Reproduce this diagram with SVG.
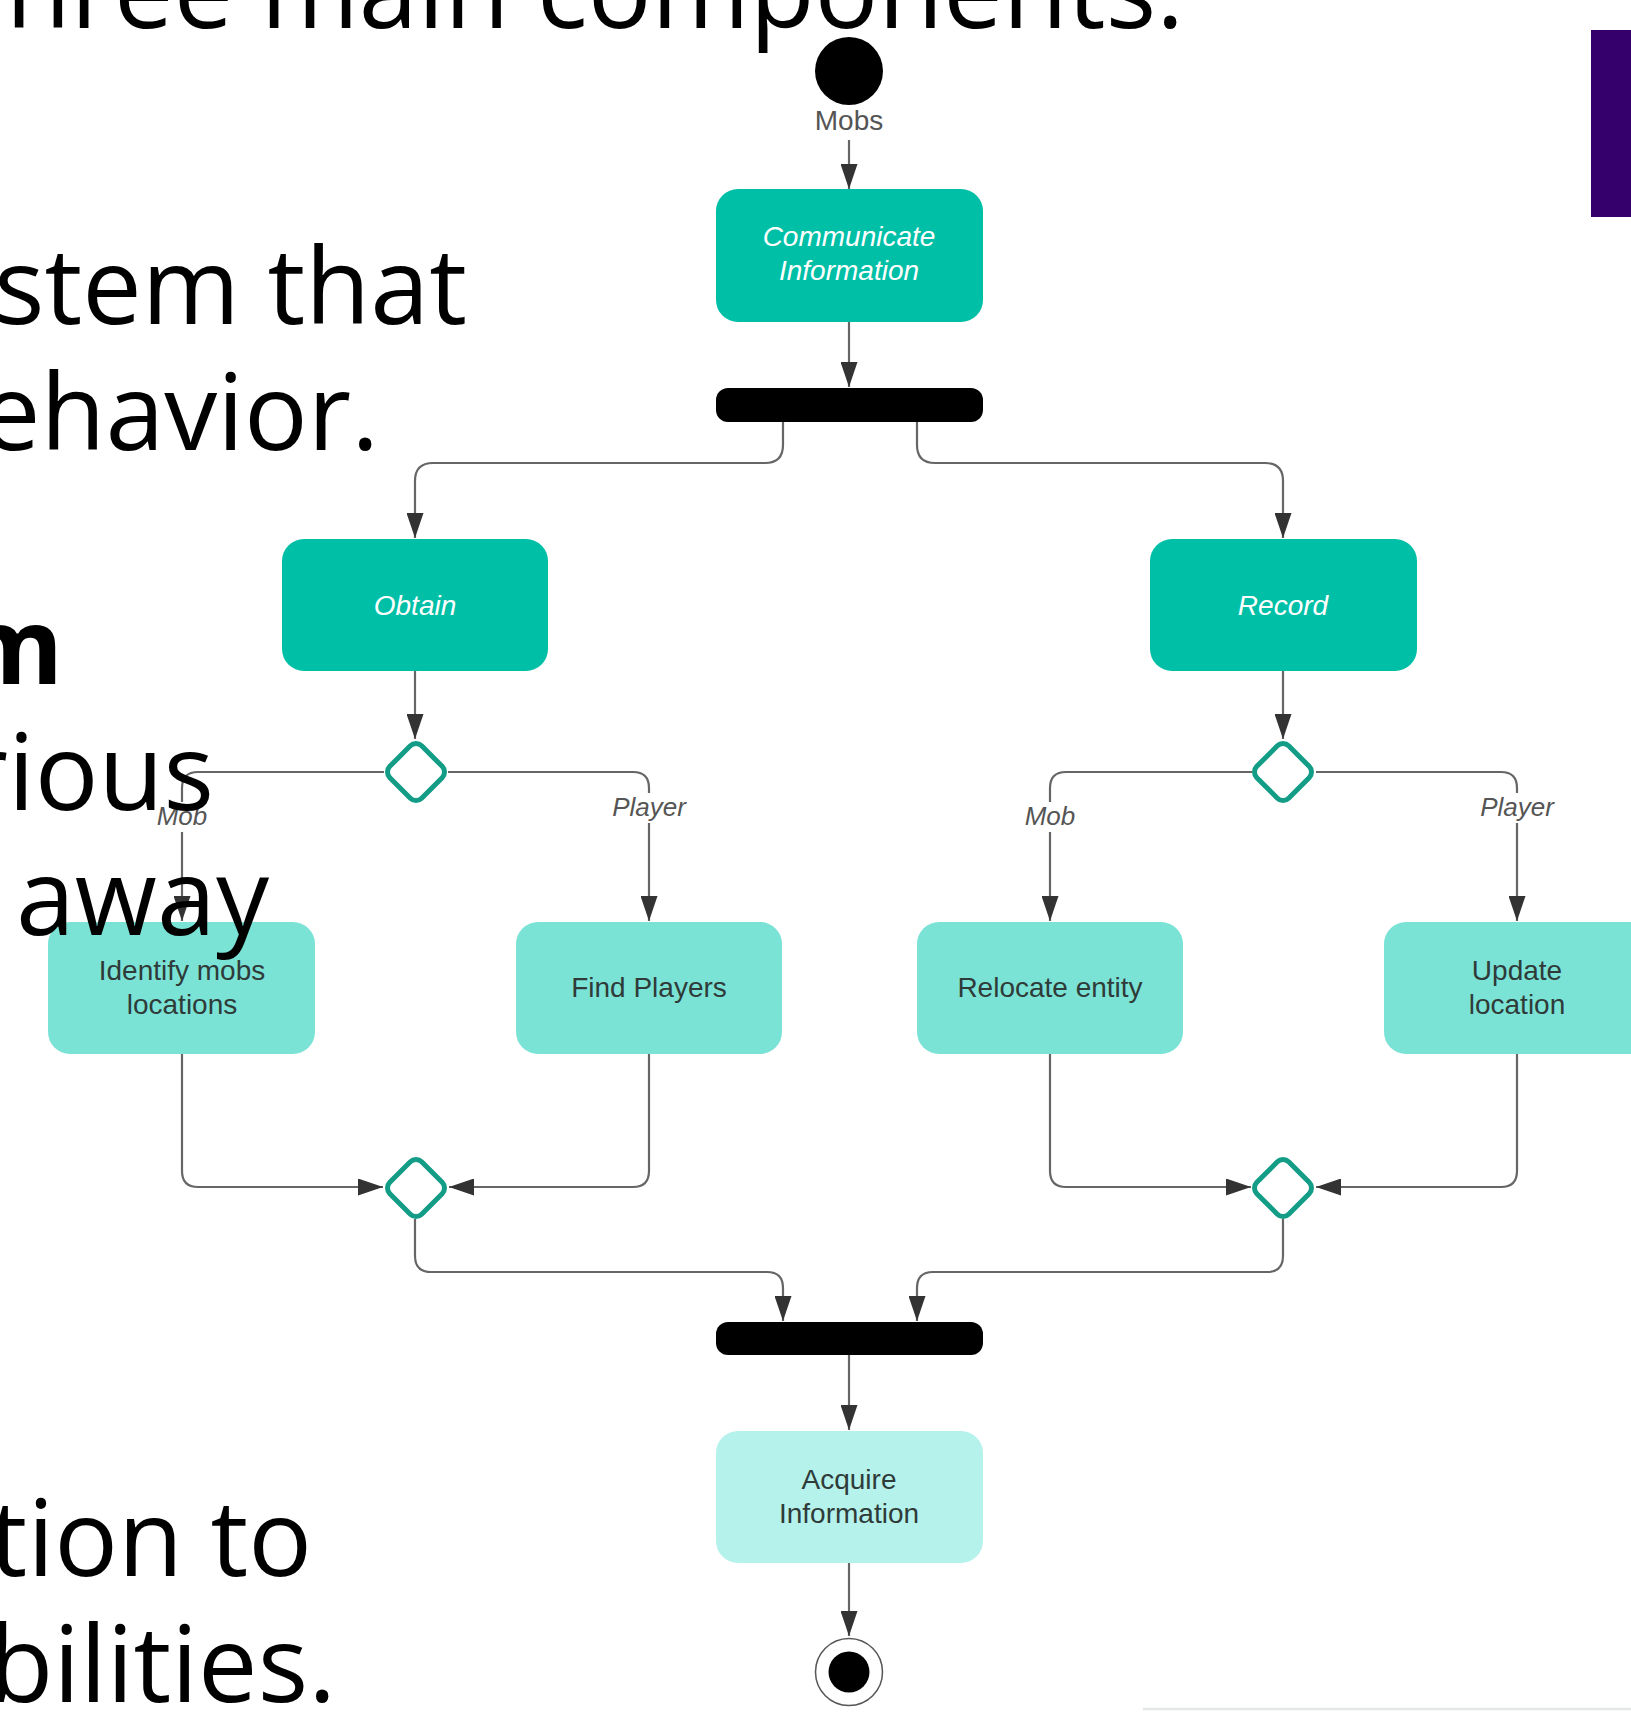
<svg xmlns="http://www.w3.org/2000/svg" width="1631" height="1722" viewBox="0 0 1631 1722">
<style>
.conn{fill:none;stroke:#666;stroke-width:2.2}
.arr{marker-end:url(#ah)}
.dark{fill:#00bfa7}
.mid{fill:#7be3d6}
.light{fill:#b5f2eb}
.dia{fill:#fff;stroke:#139d87;stroke-width:5}
.tw{font-family:"Liberation Sans",Arial,sans-serif;font-size:28px;font-style:italic;fill:#ffffff;text-anchor:middle}
.td{font-family:"Liberation Sans",Arial,sans-serif;font-size:28px;fill:#2f3b39;text-anchor:middle}
.lbl{font-family:"Liberation Sans",Arial,sans-serif;font-size:26px;font-style:italic;fill:#555;text-anchor:middle}
.slide{font-family:"Open Sans","Noto Sans","DejaVu Sans",sans-serif;font-size:106px;fill:#000;text-anchor:end}
</style>
<defs>
<marker id="ah" markerUnits="userSpaceOnUse" markerWidth="25" markerHeight="17" refX="25" refY="8.5" orient="auto">
<path d="M0,0 L25,8.5 L0,17 z" fill="#333"/>
</marker>
</defs>
<rect width="1631" height="1722" fill="#fff"/>
<rect x="1591" y="30" width="40" height="187" fill="#35006b"/>
<line x1="1143" y1="1709" x2="1631" y2="1709" stroke="#e4e6e8" stroke-width="2.5"/>

<g id="connectors">
<path class="conn arr" d="M849,140 L849,189"/>
<path class="conn arr" d="M849,322 L849,387"/>
<path class="conn arr" d="M783,422 L783,445 Q783,463 765,463 L433,463 Q415,463 415,481 L415,538"/>
<path class="conn arr" d="M917,422 L917,445 Q917,463 935,463 L1265,463 Q1283,463 1283,481 L1283,538"/>
<path class="conn arr" d="M415,671 L415,739"/>
<path class="conn arr" d="M1283,671 L1283,739"/>
<path class="conn arr" d="M384,772 L198,772 Q182,772 182,788 L182,921"/>
<path class="conn arr" d="M448,772 L633,772 Q649,772 649,788 L649,921"/>
<path class="conn arr" d="M1252,772 L1066,772 Q1050,772 1050,788 L1050,921"/>
<path class="conn arr" d="M1316,772 L1501,772 Q1517,772 1517,788 L1517,921"/>
<path class="conn arr" d="M182,1054 L182,1171 Q182,1187 198,1187 L383,1187"/>
<path class="conn arr" d="M649,1054 L649,1171 Q649,1187 633,1187 L449,1187"/>
<path class="conn arr" d="M1050,1054 L1050,1171 Q1050,1187 1066,1187 L1251,1187"/>
<path class="conn arr" d="M1517,1054 L1517,1171 Q1517,1187 1501,1187 L1316,1187"/>
<path class="conn arr" d="M415,1219 L415,1256 Q415,1272 431,1272 L767,1272 Q783,1272 783,1288 L783,1321"/>
<path class="conn arr" d="M1283,1219 L1283,1256 Q1283,1272 1267,1272 L933,1272 Q917,1272 917,1288 L917,1321"/>
<path class="conn arr" d="M849,1355 L849,1430"/>
<path class="conn arr" d="M849,1563 L849,1636"/>
<g id="labels">
<rect x="824" y="106" width="50" height="30" fill="#fff"/>
<text x="849" y="130" class="lbl" style="font-style:normal;font-size:28px">Mobs</text>
<rect x="154" y="802" width="56" height="30" fill="#fff"/>
<text x="182" y="825" class="lbl">Mob</text>
<rect x="609" y="793" width="80" height="30" fill="#fff"/>
<text x="649" y="816" class="lbl">Player</text>
<rect x="1022" y="802" width="56" height="30" fill="#fff"/>
<text x="1050" y="825" class="lbl">Mob</text>
<rect x="1477" y="793" width="80" height="30" fill="#fff"/>
<text x="1517" y="816" class="lbl">Player</text>
</g>
</g>

<g id="start"><circle cx="849" cy="71" r="34" fill="#000"/></g>
<g id="communicate">
<rect class="dark" x="716" y="189" width="267" height="133" rx="22"/>
<text class="tw" x="849" y="246">Communicate</text>
<text class="tw" x="849" y="280">Information</text>
</g>
<g id="fork"><rect x="716" y="388" width="267" height="34" rx="12" fill="#000"/></g>
<g id="obtain">
<rect class="dark" x="282" y="539" width="266" height="132" rx="22"/>
<text class="tw" x="415" y="615">Obtain</text>
</g>
<g id="record">
<rect class="dark" x="1150" y="539" width="267" height="132" rx="22"/>
<text class="tw" x="1283" y="615">Record</text>
</g>
<g id="decision-obtain"><rect class="dia" x="-22.5" y="-22.5" width="45" height="45" rx="8" transform="translate(416,772) rotate(45)"/></g>
<g id="decision-record"><rect class="dia" x="-22.5" y="-22.5" width="45" height="45" rx="8" transform="translate(1283,772) rotate(45)"/></g>
<g id="identify">
<rect class="mid" x="48" y="922" width="267" height="132" rx="22"/>
<text class="td" x="182" y="980">Identify mobs</text>
<text class="td" x="182" y="1014">locations</text>
</g>
<g id="find-players">
<rect class="mid" x="516" y="922" width="266" height="132" rx="22"/>
<text class="td" x="649" y="997">Find Players</text>
</g>
<g id="relocate">
<rect class="mid" x="917" y="922" width="266" height="132" rx="22"/>
<text class="td" x="1050" y="997">Relocate entity</text>
</g>
<g id="update">
<rect class="mid" x="1384" y="922" width="267" height="132" rx="22"/>
<text class="td" x="1517" y="980">Update</text>
<text class="td" x="1517" y="1014">location</text>
</g>
<g id="merge-left"><rect class="dia" x="-22.5" y="-22.5" width="45" height="45" rx="8" transform="translate(416,1188) rotate(45)"/></g>
<g id="merge-right"><rect class="dia" x="-22.5" y="-22.5" width="45" height="45" rx="8" transform="translate(1283,1188) rotate(45)"/></g>
<g id="join"><rect x="716" y="1322" width="267" height="33" rx="12" fill="#000"/></g>
<g id="acquire">
<rect class="light" x="716" y="1431" width="267" height="132" rx="22"/>
<text class="td" x="849" y="1489">Acquire</text>
<text class="td" x="849" y="1523">Information</text>
</g>
<g id="end">
<circle cx="849" cy="1672" r="33.5" fill="#fff" stroke="#555" stroke-width="1.5"/>
<circle cx="849" cy="1672" r="20.5" fill="#000"/>
</g>

<g id="slide-text">
<text class="slide" x="1184" y="28">hree main components.</text>
<text class="slide" x="467" y="324">stem that</text>
<text class="slide" x="379" y="450">ehavior.</text>
<text class="slide" x="63" y="684" style="font-weight:bold">m</text>
<text class="slide" x="214" y="810">rious</text>
<text class="slide" x="269" y="935">away</text>
<text class="slide" x="312" y="1576">tion to</text>
<text class="slide" x="336" y="1702">bilities.</text>
</g>
</svg>
